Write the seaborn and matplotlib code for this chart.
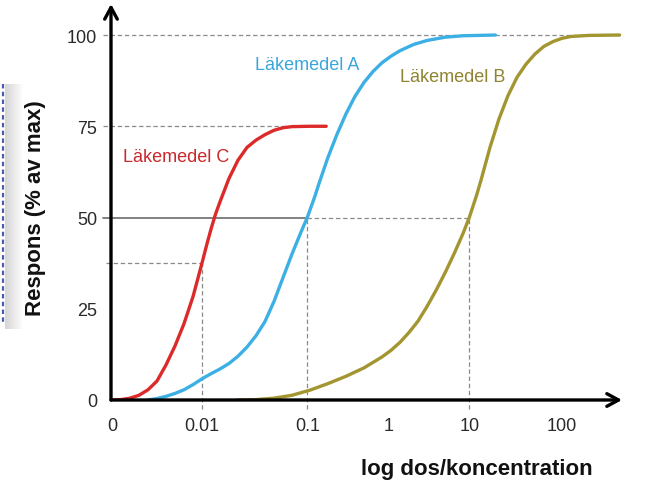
import numpy as np
import pandas as pd
import matplotlib
matplotlib.use("Agg")
import matplotlib.pyplot as plt
from matplotlib.lines import Line2D
from matplotlib.patches import Rectangle
import seaborn as sns

# ---- data (x in axis position units: tick "0" at 0, "0.01" at 1.0, ...) ----
tick_pos = [0.0, 1.0, 2.17, 3.07, 3.97, 5.0]
tick_labels = ["0", "0.01", "0.1", "1", "10", "100"]
y_ticks = [0, 25, 50, 75, 100]

c_x = [0.0, 0.1, 0.2, 0.3, 0.4, 0.5, 0.6, 0.7, 0.8, 0.9, 1.0, 1.05, 1.1, 1.15, 1.2, 1.3, 1.4, 1.5,
       1.6, 1.7, 1.8, 1.9, 2.0, 2.2, 2.38]
c_y = [0.0, 0.1, 0.5, 1.3, 2.8, 5.2, 9.6, 14.8, 20.9, 28.3, 37.5, 42.3, 46.8, 50.9, 54.3, 60.7, 65.7,
       69.2, 71.2, 72.7, 73.9, 74.6, 74.9, 75.0, 75.0]

a_x = [0.4, 0.5, 0.6, 0.7, 0.8, 0.9, 1.0, 1.1, 1.2, 1.3, 1.4, 1.5, 1.6, 1.7, 1.8, 1.9, 2.0, 2.1,
       2.17, 2.25, 2.3, 2.4, 2.5, 2.6, 2.7, 2.8, 2.9, 3.0, 3.1, 3.2, 3.35, 3.5, 3.7, 3.9, 4.26]
a_y = [0.0, 0.4, 1.0, 1.8, 2.8, 4.2, 5.8, 7.2, 8.5, 10.0, 12.0, 14.5, 17.6, 21.5, 27.0, 33.5, 40.0,
       46.0, 50.0, 55.5, 59.3, 66.5, 72.8, 78.4, 83.2, 87.0, 90.0, 92.4, 94.2, 95.7, 97.4, 98.5, 99.4,
       99.8, 100.0]

b_x = [1.39, 1.6, 1.8, 2.0, 2.2, 2.4, 2.6, 2.8, 3.0, 3.1, 3.2, 3.3, 3.4, 3.5, 3.6, 3.7, 3.8, 3.9,
       3.97, 4.05, 4.1, 4.2, 4.3, 4.4, 4.5, 4.6, 4.7, 4.8, 4.9, 5.0, 5.1, 5.3, 5.64]
b_y = [0.0, 0.1, 0.5, 1.3, 2.7, 4.5, 6.5, 8.8, 11.8, 13.6, 15.8, 18.5, 21.6, 25.6, 30.0, 34.8, 40.0,
       45.6, 50.0, 56.0, 60.2, 69.2, 77.0, 83.4, 88.4, 92.0, 94.8, 96.9, 98.2, 99.1, 99.6, 99.9, 100.0]

df = pd.concat([
    pd.DataFrame({"x": c_x, "y": c_y, "drug": "Läkemedel C"}),
    pd.DataFrame({"x": a_x, "y": a_y, "drug": "Läkemedel A"}),
    pd.DataFrame({"x": b_x, "y": b_y, "drug": "Läkemedel B"}),
])
palette = {"Läkemedel C": "#dc2a2a", "Läkemedel A": "#3cb0e4", "Läkemedel B": "#a39530"}
label_colors = {"Läkemedel C": "#c9282c", "Läkemedel A": "#3aa6dc", "Läkemedel B": "#8f8430"}

sns.set_theme(style="white")
plt.rcParams["font.family"] = ["Liberation Sans", "DejaVu Sans"]

fig = plt.figure(figsize=(6.54, 5.02), dpi=100)
ax = fig.add_axes([111 / 654, 101 / 502, (622 - 111) / 654, (497 - 101) / 502])
ax.set_xlim(-0.011, 5.667)
ax.set_ylim(0, 108.5)

# reference lines
gcol = "#8a8a8a"
dash = (0, (3.5, 2.2))
ref_kw = dict(color=gcol, lw=0.9, linestyle=dash, clip_on=False, zorder=1)
ax.plot([-0.1, 5.64], [100, 100], **ref_kw)
ax.plot([-0.1, 2.38], [75, 75], **ref_kw)
ax.plot([-0.1, 2.17], [50, 50], color="#777777", lw=1.3, clip_on=False, zorder=1)
ax.plot([2.17, 3.97], [50, 50], **ref_kw)
ax.plot([-0.07, 1.0], [37.5, 37.5], **ref_kw)
ax.plot([1.0, 1.0], [-2.5, 37.5], **ref_kw)
ax.plot([2.17, 2.17], [-2.5, 50], **ref_kw)
ax.plot([3.97, 3.97], [-2.5, 50], **ref_kw)

sns.lineplot(data=df, x="x", y="y", hue="drug", palette=palette, sort=False,
             estimator=None, lw=2.4, legend=False, ax=ax, zorder=3)
for ln in ax.lines[-3:]:
    ln.set_solid_joinstyle("round")
    ln.set_solid_capstyle("round")

# curve labels
ax.text(0.12, 66.8, "Läkemedel C", color=label_colors["Läkemedel C"], fontsize=13, va="center", ha="left")
ax.text(1.59, 92.0, "Läkemedel A", color=label_colors["Läkemedel A"], fontsize=13, va="center", ha="left")
ax.text(3.20, 88.5, "Läkemedel B", color=label_colors["Läkemedel B"], fontsize=13, va="center", ha="left")

# ticks
ax.set_xticks(tick_pos, tick_labels)
ax.set_yticks(y_ticks, [str(v) for v in y_ticks])
ax.tick_params(axis="x", length=0, pad=12, labelsize=13, labelcolor="#2a2a2a")
ax.tick_params(axis="y", length=0, pad=10, labelsize=13, labelcolor="#2a2a2a")
ax.set_xlabel("")
ax.set_ylabel("")
for s in ax.spines.values():
    s.set_visible(False)

# arrow axes
arr = dict(arrowstyle="->,head_length=0.7,head_width=0.38", lw=2.4, color="black",
           shrinkA=0, shrinkB=0)
ax.annotate("", xy=(1.0, 0), xytext=(0, 0), xycoords="axes fraction", arrowprops=arr, zorder=5)
ax.annotate("", xy=(0, 1.0), xytext=(0, 0), xycoords="axes fraction", arrowprops=arr, zorder=5)

# axis titles
fig.text(36 / 654, 1 - 208 / 502, "Respons (% av max)", rotation=90, fontsize=16,
         fontweight="bold", ha="center", va="center", color="#111111")
fig.text(477 / 654, 1 - 470 / 502, "log dos/koncentration", fontsize=16,
         fontweight="bold", ha="center", va="center", color="#111111")

# slide artifact on the left edge (dashed box edge with shadow)
for i, a in enumerate(np.linspace(0.28, 0.02, 9)):
    fig.add_artist(Rectangle(((5 + i * 2) / 654, 1 - 330 / 502), 2 / 654, 245 / 502,
                             transform=fig.transFigure, color="#707070", alpha=a, lw=0))
fig.add_artist(Line2D([3 / 654, 3 / 654], [1 - 85 / 502, 1 - 325 / 502], transform=fig.transFigure,
                      color="#4a5cb0", lw=1.6, linestyle=(0, (2, 1.5))))

fig.savefig("out.png", dpi=100)
